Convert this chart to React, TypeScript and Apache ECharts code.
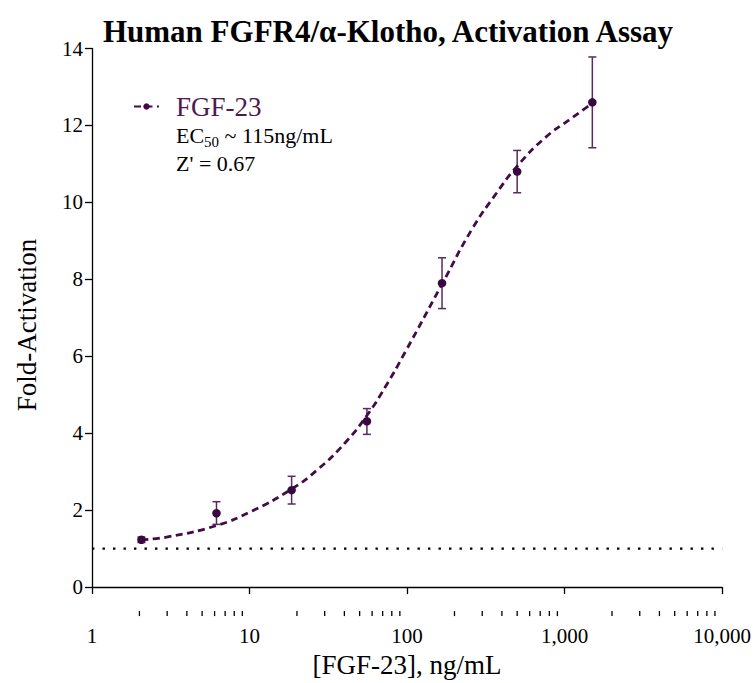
import React, { useEffect, useRef } from "react";
import * as echarts from "echarts";

const FONT = "Liberation Serif";

// measured points
const concentrations = [2.06, 6.17, 18.5, 55.6, 166.7, 500, 1500];
const means = [1.23, 1.92, 2.52, 4.31, 7.9, 10.8, 12.6];
const errLow = [1.16, 1.63, 2.16, 3.97, 7.24, 10.25, 11.42];
const errHigh = [1.3, 2.22, 2.88, 4.64, 8.56, 11.35, 13.78];

// fitted curve
const curveX = [2.06, 3.08, 6.17, 10.4, 18.5, 27.5, 40.6, 55.6, 72.7, 97.3, 167, 258, 371, 500, 752, 1109, 1500];
const curveY = [1.23, 1.31, 1.6, 1.98, 2.55, 3.08, 3.76, 4.46, 5.2, 6.11, 7.88, 9.3, 10.25, 10.94, 11.68, 12.19, 12.58];

// baseline (fold = 1)
const baselineX = [1, 10000];
const baselineY = [1, 1];

const yTicks = { min: 0, max: 14, interval: 2 };
const minorTicks = [
  2, 3, 4, 5, 6, 7, 8, 9,
  20, 30, 40, 50, 60, 70, 80, 90,
  200, 300, 400, 500, 600, 700, 800, 900,
  2000, 3000, 4000, 5000, 6000, 7000, 8000, 9000,
];

const X_OFFSET = 24;

export default function App() {
  const ref = useRef<HTMLDivElement>(null);
  useEffect(() => {
    if (!ref.current) return;
    const chart = echarts.init(ref.current, null, { renderer: "svg" });
    chart.setOption({
      animation: false,
      backgroundColor: "#fff",
      textStyle: { fontFamily: FONT },
      title: {
        text: "Human FGFR4/\u03b1-Klotho, Activation Assay",
        left: 383,
        top: 11,
        textAlign: "center",
        textStyle: { fontFamily: FONT, fontWeight: "bold", fontSize: 31, color: "#000" },
      },
      legend: {
        left: 128,
        top: 88,
        itemWidth: 25,
        itemHeight: 8,
        data: ["FGF-23"],
        textStyle: { fontFamily: FONT, fontSize: 27, color: "#4d1a50", padding: [0, 0, 0, 12] },
      },
      grid: { left: 92, right: 30, top: 48.5, bottom: 94 },
      xAxis: {
        type: "log",
        logBase: 10,
        min: 1,
        max: 10000,
        offset: X_OFFSET,
        name: "[FGF-23], ng/mL",
        nameLocation: "middle",
        nameGap: 31,
        nameTextStyle: { fontFamily: FONT, fontSize: 27, color: "#000" },
        axisLine: { lineStyle: { color: "#000", width: 1.3 } },
        axisTick: { length: 7, lineStyle: { color: "#000", width: 1.3 } },
        axisLabel: {
          fontFamily: FONT,
          fontSize: 21,
          color: "#000",
          margin: 14,
          formatter: (v: number) => Math.round(v).toLocaleString("en-US"),
        },
        splitLine: { show: false },
      },
      yAxis: {
        type: "value",
        min: yTicks.min,
        max: yTicks.max,
        interval: yTicks.interval,
        axisLine: { show: true, lineStyle: { color: "#000", width: 1.3 } },
        axisTick: { show: true, length: 7, lineStyle: { color: "#000", width: 1.3 } },
        axisLabel: { fontFamily: FONT, fontSize: 21, color: "#000", margin: 9 },
        splitLine: { show: false },
      },
      graphic: [
        {
          type: "text",
          x: 27,
          y: 325,
          rotation: Math.PI / 2,
          style: {
            text: "Fold-Activation",
            fontFamily: FONT,
            fontSize: 27,
            fill: "#000",
            align: "center",
            verticalAlign: "middle",
          },
        },
        {
          type: "text",
          x: 176,
          y: 135.5,
          style: {
            text: "{a|EC}{s|50}{a| ~ 115ng/mL}",
            align: "left",
            verticalAlign: "middle",
            rich: {
              a: { fontFamily: FONT, fontSize: 22, lineHeight: 28, fill: "#000" },
              s: { fontFamily: FONT, fontSize: 15, lineHeight: 15, verticalAlign: "bottom", fill: "#000" },
            },
          },
        },
        {
          type: "text",
          x: 176,
          y: 163,
          style: {
            text: "Z' = 0.67",
            fontFamily: FONT,
            fontSize: 22,
            fill: "#000",
            align: "left",
            verticalAlign: "middle",
          },
        },
      ],
      series: [
        {
          type: "line",
          name: "baseline",
          data: baselineX.map((x, i) => [x, baselineY[i]]),
          showSymbol: false,
          symbol: "none",
          silent: true,
          lineStyle: { color: "#000", width: 2.2, type: [2.4, 8.1], cap: "butt" },
        },
        {
          type: "line",
          name: "FGF-23",
          data: curveX.map((x, i) => [x, curveY[i]]),
          smooth: 0.5,
          symbol: "circle",
          symbolSize: 8,
          showSymbol: false,
          itemStyle: { color: "#430c48" },
          lineStyle: { color: "#430c48", width: 2.8, type: [7, 4.5] },
        },
        {
          type: "custom",
          name: "errors",
          silent: true,
          data: concentrations.map((x, i) => [x, errLow[i], errHigh[i]]),
          renderItem: (params: any, api: any) => {
            const lo = api.coord([api.value(0), api.value(1)]);
            const hi = api.coord([api.value(0), api.value(2)]);
            const w = 4;
            const style = { stroke: "#5a2a5e", lineWidth: 1.5 };
            return {
              type: "group",
              children: [
                { type: "line", shape: { x1: lo[0], y1: lo[1], x2: hi[0], y2: hi[1] }, style },
                { type: "line", shape: { x1: lo[0] - w, y1: lo[1], x2: lo[0] + w, y2: lo[1] }, style },
                { type: "line", shape: { x1: hi[0] - w, y1: hi[1], x2: hi[0] + w, y2: hi[1] }, style },
              ],
            };
          },
          z: 3,
        },
        {
          type: "scatter",
          name: "points",
          data: concentrations.map((x, i) => [x, means[i]]),
          symbol: "circle",
          symbolSize: 8.5,
          itemStyle: { color: "#3a0840", opacity: 1 },
          z: 4,
        },
        {
          type: "custom",
          name: "minorTicks",
          silent: true,
          clip: false,
          data: minorTicks.map((v) => [v, 0]),
          renderItem: (params: any, api: any) => {
            const p = api.coord([api.value(0), 0]);
            const y = p[1] + X_OFFSET;
            return {
              type: "line",
              shape: { x1: p[0], y1: y, x2: p[0], y2: y + 5 },
              style: { stroke: "#000", lineWidth: 1.3 },
            };
          },
        },
      ],
    });
    return () => chart.dispose();
  }, []);
  return <div ref={ref} style={{ position: "absolute", left: 0, top: 0, width: 754, height: 683 }} />;
}
